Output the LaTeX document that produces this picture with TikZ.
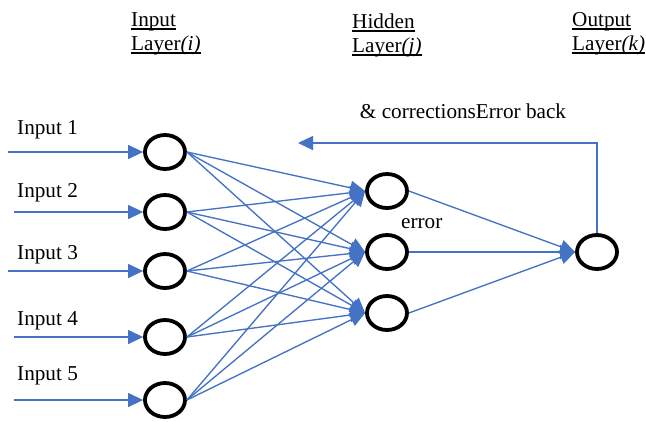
\documentclass[tikz,border=0pt]{standalone}
\usepackage{fontspec}
\setmainfont{Liberation Serif}
\usetikzlibrary{shapes.geometric,arrows.meta}
\definecolor{linkblue}{HTML}{4472C4}
% heading text with a firm rule a fixed distance under the baseline
\newcommand{\headul}[1]{\leavevmode\setbox0=\hbox{#1}\rlap{\vrule width \wd0 height -2.4bp depth 4.3bp}\box0}
\begin{document}
\begin{tikzpicture}[x=1bp,y=-1bp,
  neuron/.style={ellipse,draw=black,line width=3.8bp,minimum width=40bp,minimum height=34bp,inner sep=0pt},
  link/.style={draw=linkblue,line width=1.35bp,-{Triangle[length=15bp,width=14bp]}},
  lbl/.style={font=\fontsize{21.2bp}{24bp}\selectfont,inner sep=0pt},
  head/.style={lbl,anchor=base west}]
\useasboundingbox (0,0) rectangle (646,421);
% layer headings
\node[head] (hin1)  at (131,26) {\headul{Input}};
\node[head] (hin2)  at (131,50) {\headul{Layer\textit{(i)}}};
\node[head] (hhid1) at (352,28) {\headul{Hidden}};
\node[head] (hhid2) at (352,52) {\headul{Layer\textit{(j)}}};
\node[head] (hout1) at (572,26) {\headul{Output}};
\node[head] (hout2) at (572,50) {\headul{Layer\textit{(k)}}};
% neurons
\foreach \k/\y in {1/152,2/212,3/271,4/337,5/400}
  \node[neuron] (i\k) at (165,\y) {};
\foreach \k/\y in {1/191,2/252,3/313}
  \node[neuron] (h\k) at (387,\y) {};
\node[neuron] (o) at (597,252) {};
% input signals
\foreach \k/\x/\y/\b in {1/8/152/134,2/14/212/197,3/8/271/259,4/14/337/325,5/14/400/380}{
  \coordinate (s\k) at (\x,\y);
  \node[lbl,anchor=base west] (t\k) at (17,\b) {Input \k};
  \draw[link] (s\k) -- (i\k.west);
}
% input to hidden
\foreach \a in {1,...,5}
  \foreach \b in {1,2,3}
    \draw[link] (i\a.east) -- (h\b.west);
% hidden to output
\foreach \b in {1,2,3}
  \draw[link] (h\b.east) -- (o.west);
% error feedback
\coordinate (fb) at (597,143);
\coordinate (fe) at (298,143);
\draw[link] (o.north) -- (fb) -- (fe);
\node[lbl,anchor=base] (ebk) at (463,118) {\& correctionsError back};
\node[lbl,anchor=base west] (err) at (401,228) {error};
\end{tikzpicture}
\end{document}
